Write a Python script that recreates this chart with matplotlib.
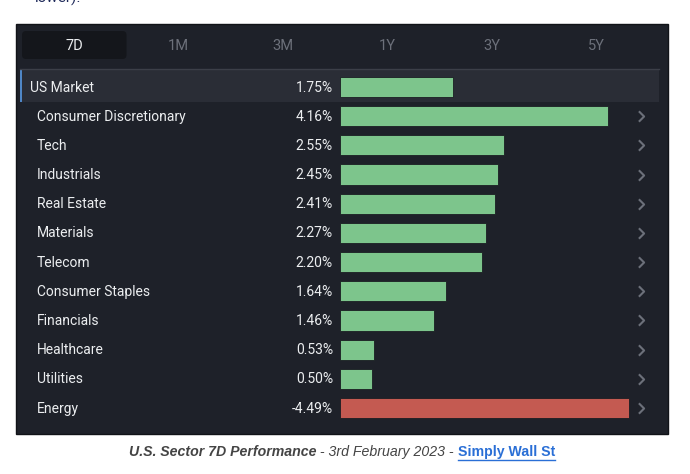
import matplotlib.pyplot as plt
import matplotlib.transforms as mtransforms
from matplotlib.patches import Rectangle, FancyBboxPatch

# Дані: сектори та зміна за 7 днів, %
SECTORS = [
    "US Market", "Consumer Discretionary", "Tech", "Industrials",
    "Real Estate", "Materials", "Telecom", "Consumer Staples",
    "Financials", "Healthcare", "Utilities", "Energy"
]
CHANGES = [1.75, 4.16, 2.55, 2.45, 2.41, 2.27, 2.20, 1.64, 1.46, 0.53, 0.50, -4.49]
TABS = ["7D", "1M", "3M", "1Y", "3Y", "5Y"]
SELECTED_TAB = "7D"

BG = "#1e2129"
ROW_HL = "#2a2d36"
TAB_SEL = "#14161b"
GREEN = "#7dc58c"
RED = "#c45a51"
TEXT = "#eceef0"
MUTED = "#6c707a"

W, H = 690, 474

plt.rcParams['font.family'] = ['Roboto', 'DejaVu Sans']

fig = plt.figure(figsize=(W / 100, H / 100), dpi=100)

# фон у піксельних координатах
bg = fig.add_axes([0, 0, 1, 1])
bg.set_xlim(0, W)
bg.set_ylim(H, 0)
bg.axis("off")

bg.text(35, -2, "lower).", color="#1f2a5a", fontsize=11, ha="left", va="center")

bg.add_patch(Rectangle((16, 24), 652, 410, facecolor=BG, edgecolor="#111318", lw=1))

# вкладки
tab_left, tab_w = 22, 104.5
for i, tab in enumerate(TABS):
    cx = tab_left + tab_w * i + tab_w / 2
    if tab == SELECTED_TAB:
        bg.add_patch(FancyBboxPatch((tab_left + 3, 34), tab_w - 6, 22,
                                    boxstyle="round,pad=3,rounding_size=4",
                                    facecolor=TAB_SEL, edgecolor="none"))
        bg.text(cx, 45.5, tab, color=TEXT, fontsize=10.5, ha="center", va="center")
    else:
        bg.text(cx, 45.5, tab, color=MUTED, fontsize=10.5, ha="center", va="center")

# підсвічений рядок ринку
bg.add_patch(Rectangle((20, 69), 639, 32.5, facecolor=ROW_HL, edgecolor="none"))
bg.plot([20, 659], [68.5, 68.5], color="#3c3f48", lw=1)
bg.add_patch(Rectangle((20, 69), 2, 32.5, facecolor="#4f86c6", edgecolor="none"))

# підпис з трьох частин, розставлених одна за одною
cap_font = ['Liberation Sans', 'DejaVu Sans']
parts = [
    ("U.S. Sector 7D Performance", "#444444", "bold", "italic"),
    (" - 3rd February 2023 - ", "#444444", "normal", "italic"),
    ("Simply Wall St", "#2a6fd6", "bold", "normal"),
]
renderer = fig.canvas.get_renderer()
texts = []
for s, c, wgt, sty in parts:
    t = bg.text(0, 452, s, color=c, fontsize=10.2, fontweight=wgt, style=sty,
                family=cap_font, ha="left", va="center")
    texts.append(t)
widths = [t.get_window_extent(renderer).width for t in texts]
x = 342 - sum(widths) / 2
for t, w in zip(texts, widths):
    t.set_x(x)
    x += w
link_x0 = x - widths[-1]
bg.plot([link_x0, x], [459.5, 459.5], color="#2a6fd6", lw=1)

# стовпчики
px_per_pct = 64.4
row_step = 29.18
n = len(SECTORS)
top = 87 - row_step / 2
bottom = 87 + row_step * (n - 0.5)
ax = fig.add_axes([340 / W, 1 - bottom / H, 320 / W, (bottom - top) / H])
ax.set_xlim(0, 320 / px_per_pct)
ax.set_ylim(n - 0.5, -0.5)
ax.axis("off")

ys = list(range(n))
colors = [GREEN if v >= 0 else RED for v in CHANGES]
ax.barh(ys, [abs(v) for v in CHANGES], height=0.69, color=colors,
        edgecolor="#1a1d22", linewidth=0.6)

tr = mtransforms.blended_transform_factory(bg.transData, ax.transData)
for i, (name, v) in enumerate(zip(SECTORS, CHANGES)):
    x_name = 30 if i == 0 else 37
    ax.text(x_name, i + 0.02, name, transform=tr, color=TEXT, fontsize=10,
            ha="left", va="center", clip_on=False)
    ax.text(333, i + 0.02, f"{v:.2f}%", transform=tr, color=TEXT, fontsize=10,
            ha="right", va="center", clip_on=False)

# шеврони праворуч від рядків секторів
chevron = [(-0.5, 1.0), (0.5, 0.0), (-0.5, -1.0)]
ax.plot([641] * (n - 1), ys[1:], transform=tr, linestyle="none",
        marker=chevron, markersize=7.5, markerfacecolor="none",
        markeredgecolor=MUTED, markeredgewidth=1.5, clip_on=False)

fig.savefig("out.png", dpi=100)
